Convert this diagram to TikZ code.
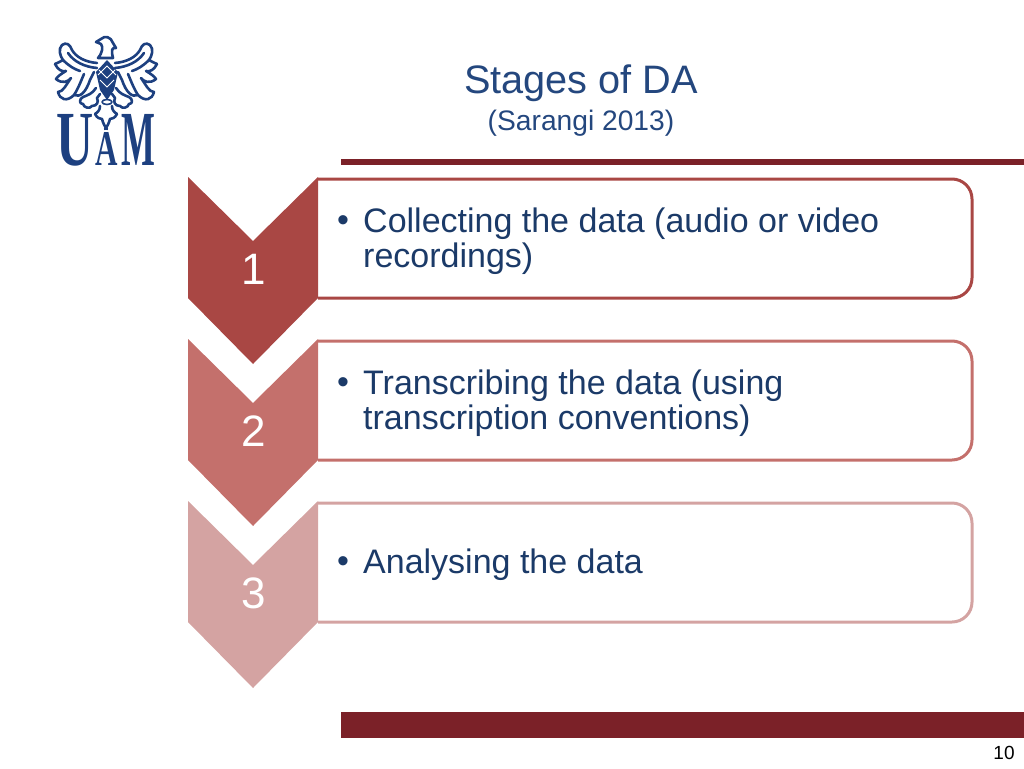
\documentclass[tikz,border=0pt]{standalone}
\usepackage{fontspec}
\setmainfont{Liberation Sans}
\newfontfamily\letraescudo{Liberation Serif}
\definecolor{titulo}{HTML}{24477E}
\definecolor{texto}{HTML}{1B3A68}
\definecolor{barra}{HTML}{7B2128}
\definecolor{rojoa}{HTML}{A94744}
\definecolor{rojob}{HTML}{C4706C}
\definecolor{rojoc}{HTML}{D4A3A2}
\definecolor{escudo}{HTML}{1D4080}
\newcommand{\flecha}[2]{\fill[#2] (188,#1) -- (253,#1+64) -- (318,#1) -- (318,#1+121) -- (253,#1+187) -- (188,#1+121) -- cycle;
	\draw[#2, line width=3pt, rounded corners=20pt] (318,#1+2) -- (972,#1+2) -- (972,#1+121) -- (318,#1+121);}
\newcommand{\mediaaguila}{
	% wing
	\draw[pluma] (97,63) .. controls (85,62) and (76,57) .. (72,50) .. controls (70,44) and (66,42) .. (62,45) .. controls (58,49) and (60,56) .. (63,60) .. controls (60,62) and (57,63) .. (55,64);
	\draw[pluma] (97,68) .. controls (85,67) and (74,62) .. (68,53);
	\draw[pluma] (55,64) .. controls (58,70) and (62,72) .. (66,71) .. controls (61,74) and (58,76) .. (56,79) .. controls (62,84) and (68,82) .. (71,78) .. controls (66,85) and (63,92) .. (58,92) .. controls (60,100) and (67,102) .. (74,95) .. controls (78,89) and (81,81) .. (84,74);
	\draw[pluma] (74,95) .. controls (80,98) and (86,92) .. (90,80) -- (94,72);
	\draw[pluma] (63,60) .. controls (69,66) and (74,69) .. (80,71);
	% leg
	\draw[pluma] (96,88) .. controls (92,94) and (88,95) .. (83,97) .. controls (79,99) and (79,104) .. (83,104) .. controls (84,108) and (90,109) .. (92,106) .. controls (97,106) and (99,102) .. (97,98) -- (100,94);
	% tail
	\draw[pluma] (100,106) .. controls (100,110) and (98,112) .. (95,114) .. controls (97,118) and (100,119) .. (102,119) .. controls (103,123) and (105,127) .. (107,129);
}
\begin{document}
\begin{tikzpicture}[x=1pt,y=-1pt,
	pluma/.style = {draw=escudo,line width=2.6pt,line cap=round,line join=round},
	numero/.style = {white,font=\fontsize{44}{44}\selectfont},
	punto/.style = {texto,font=\fontsize{34}{36}\selectfont},
	cuerpo/.style = {texto,align=left,inner sep=0pt,anchor=north west,font=\fontsize{34}{35}\selectfont},
	letra/.style = {escudo,inner sep=0pt,anchor=base,font=\fontsize{78}{78}\letraescudo\bfseries},
	]
	\useasboundingbox (0,0) rectangle (1024,768);

	\node[titulo,font=\fontsize{39.7}{40}\selectfont] (titulo) at (581,83) {Stages of DA};
	\node[titulo,font=\fontsize{28.2}{28}\selectfont] (cita) at (581,123) {(Sarangi 2013)};

	\fill[barra] (341,159) rectangle (1024,165);
	\fill[barra] (341,712) rectangle (1024,738);

	\flecha{177}{rojoa}
	\flecha{339}{rojob}
	\flecha{501}{rojoc}

	\node[numero] (n1) at (254,269) {1};
	\node[numero] (n2) at (254,431) {2};
	\node[numero] (n3) at (254,593) {3};

	\node[punto] (p1) at (343,224) {•};
	\node[punto] (p2) at (343,386) {•};
	\node[punto] (p3) at (343,565) {•};
	\node[cuerpo] (t1) at (363,208) {Collecting the data (audio or video\\recordings)};
	\node[cuerpo] (t2) at (363,370) {Transcribing the data (using\\transcription conventions)};
	\node[cuerpo] (t3) at (363,549) {Analysing the data};

	\node[font=\fontsize{19}{19}\selectfont] (pag) at (1004,753) {10};

	% logo
	\mediaaguila
	\begin{scope}[xshift=212pt,xscale=-1]
		\mediaaguila
	\end{scope}
	\draw[pluma,fill=white] (96,42) -- (101,39) .. controls (105,35) and (111,37) .. (113,43) -- (116,48) .. controls (112,47) and (111,50) .. (113,58) -- (98,58) .. controls (103,52) and (103,47) .. (101,44) -- cycle;
	\fill[escudo] (107,60) -- (118,72) -- (114,90) -- (107,100) -- (100,90) -- (96,72) -- cycle;
	\draw[white,line width=0.8pt] (99,70) -- (107,78) -- (115,70) (100,80) -- (107,87) -- (114,80) (98,75) -- (107,66) -- (116,75);
	\draw[pluma,line width=1.6pt] (107,102) ellipse (5pt and 2.5pt);
	\node[letra,xscale=0.66] (letrau) at (75,165) {U};
	\node[letra,xscale=0.62,font=\fontsize{50}{50}\letraescudo\bfseries] (letraa) at (107,165) {A};
	\node[letra,xscale=0.46] (letram) at (138,165) {M};
\end{tikzpicture}
\end{document}
